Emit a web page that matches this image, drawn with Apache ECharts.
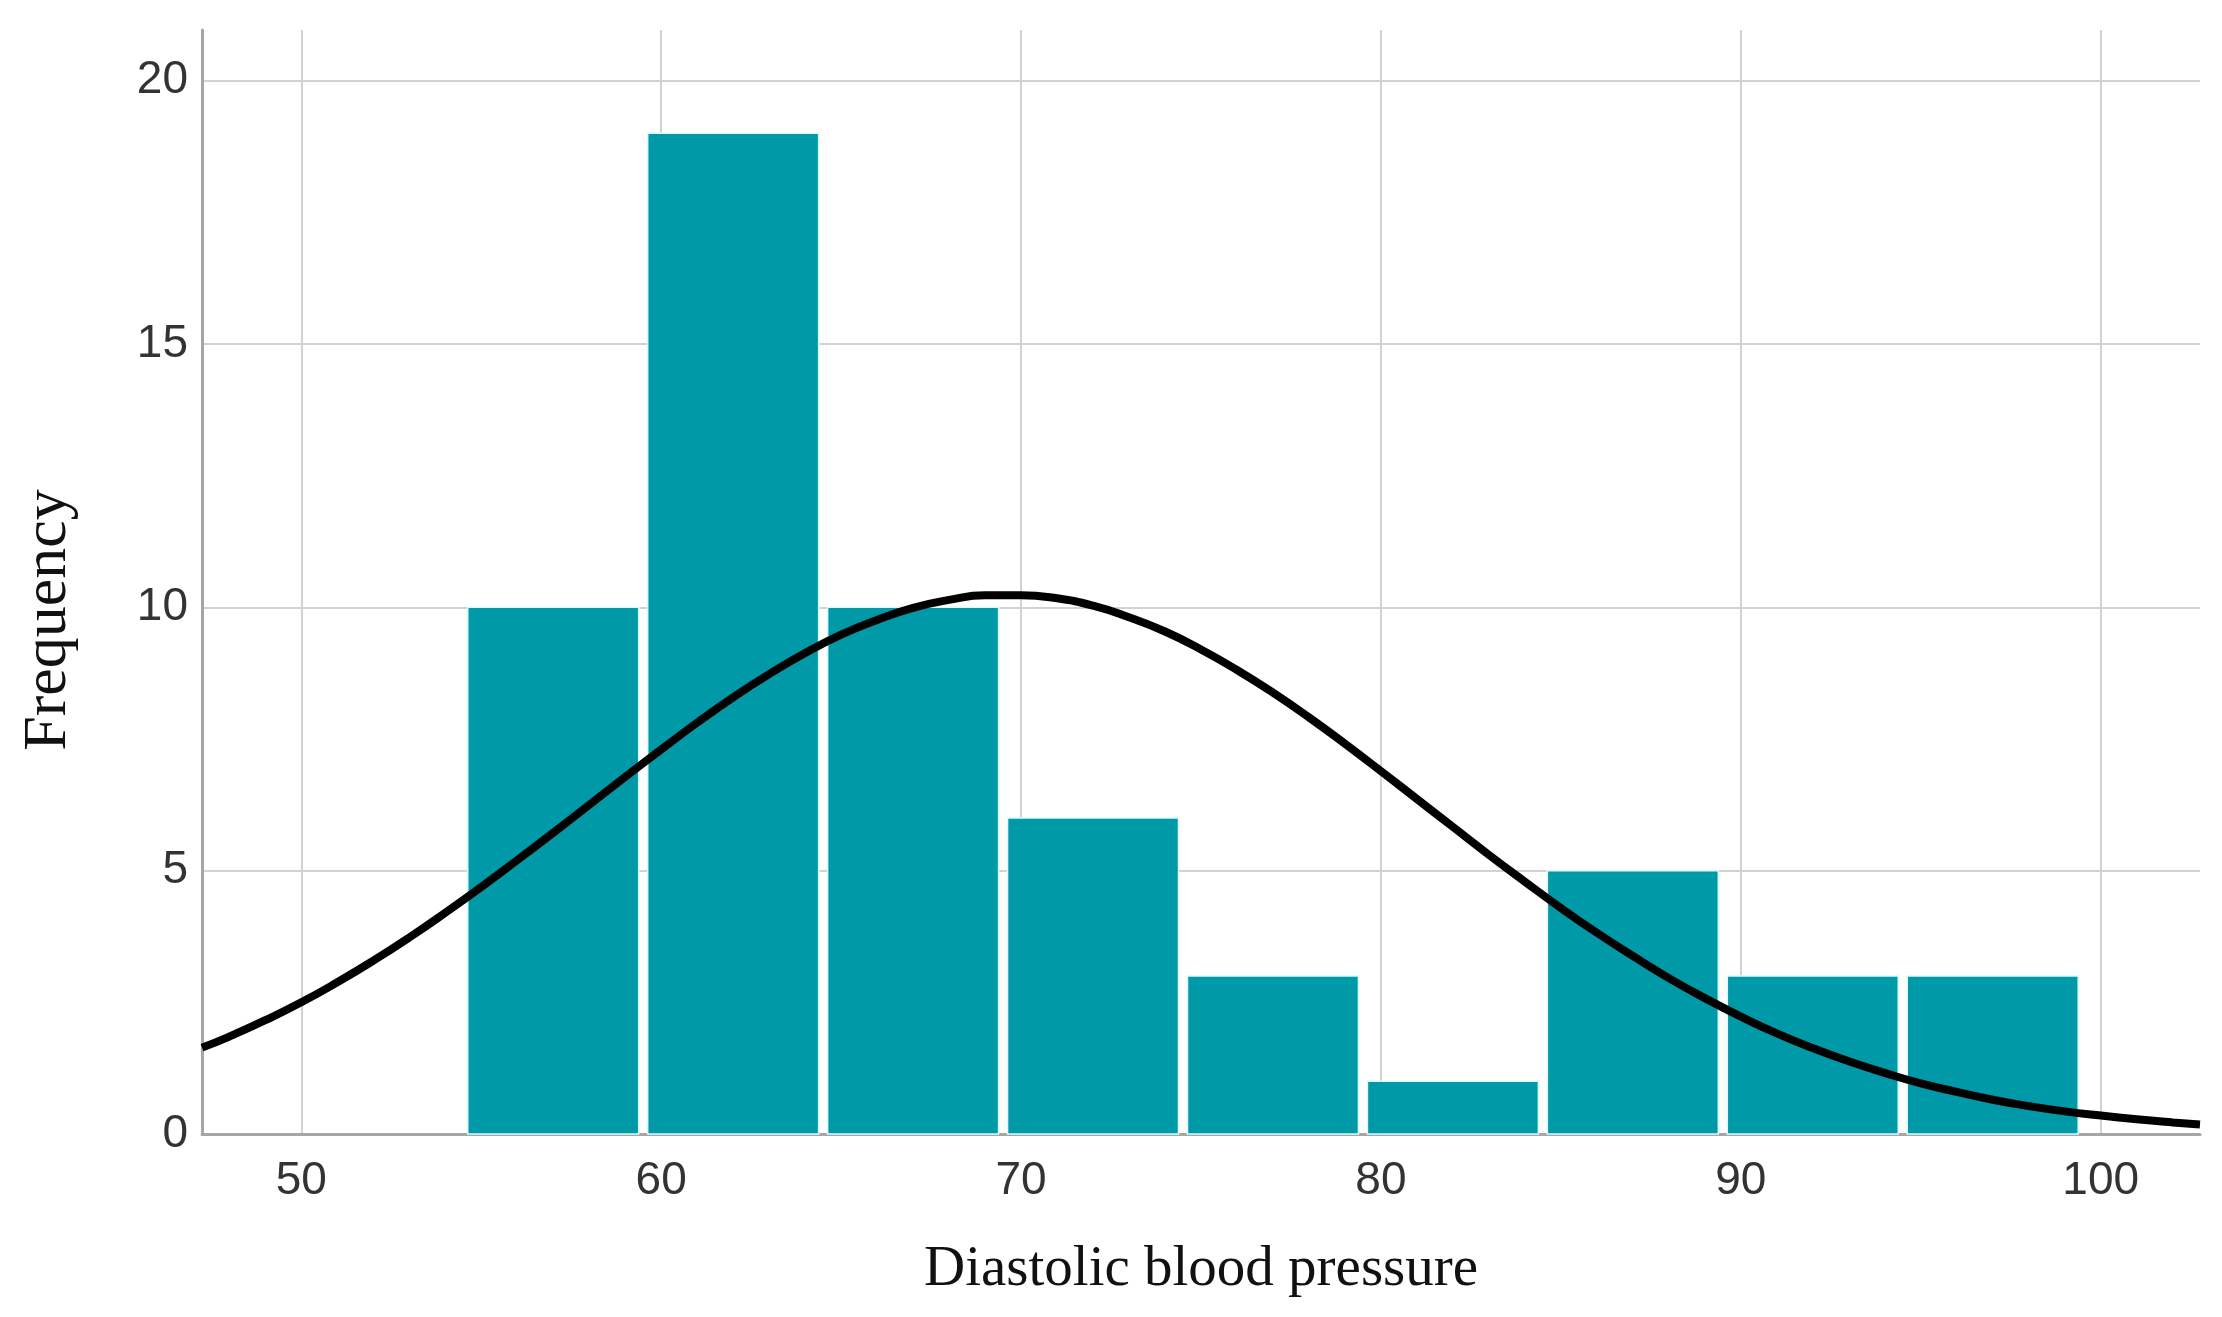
<!DOCTYPE html>
<html>
<head>
<meta charset="utf-8">
<script src="https://cdn.jsdelivr.net/npm/echarts@6/dist/echarts.min.js"></script>
<style>
html,body{margin:0;padding:0;background:#fff;}
#chart{width:2222px;height:1317px;}
</style>
</head>
<body>
<div id="chart"></div>
<script>
// ---- data ----
const binStart = [54.5, 59.5, 64.5, 69.5, 74.5, 79.5, 84.5, 89.5, 94.5];
const binEnd   = [59.5, 64.5, 69.5, 74.5, 79.5, 84.5, 89.5, 94.5, 99.5];
const counts   = [10, 19, 10, 6, 3, 1, 5, 3, 3];
const curveX = [47.24, 48, 49, 50, 51, 52, 53, 54, 55, 56, 57, 58, 59, 60, 61, 62, 63, 64, 65, 66, 67, 68, 69, 70,
                71, 72, 73, 74, 75, 76, 77, 78, 79, 80, 81, 82, 83, 84, 85, 86, 87, 88, 89, 90,
                91, 92, 93, 94, 95, 96, 97, 98, 99, 100, 101, 102, 102.76];
const curveY = [1.64, 1.85, 2.16, 2.50, 2.88, 3.29, 3.73, 4.20, 4.69, 5.20, 5.72, 6.25, 6.78, 7.30, 7.81, 8.29, 8.73, 9.13, 9.48, 9.76, 9.99, 10.14, 10.23, 10.23,
                10.17, 10.03, 9.81, 9.54, 9.20, 8.81, 8.38, 7.91, 7.41, 6.89, 6.36, 5.83, 5.30, 4.79, 4.29, 3.82, 3.38, 2.96, 2.58, 2.23,
                1.91, 1.63, 1.38, 1.16, 0.96, 0.80, 0.65, 0.53, 0.43, 0.35, 0.28, 0.22, 0.18];
const xTicks = [50, 60, 70, 80, 90, 100];
const yTicks = [0, 5, 10, 15, 20];
const xRange = [47.24, 102.76];
const yRange = [0, 20.96];

const chart = echarts.init(document.getElementById('chart'), null, {renderer: 'canvas'});

const barData = binStart.map((s, i) => [s, binEnd[i], counts[i]]);
const lineData = curveX.map((x, i) => [x, curveY[i]]);

const option = {
  backgroundColor: '#ffffff',
  animation: false,
  grid: {left: 202, right: 22, top: 30, bottom: 183, containLabel: false},
  xAxis: {
    type: 'value',
    min: xRange[0], max: xRange[1],
    name: 'Diastolic blood pressure',
    nameLocation: 'middle',
    nameGap: 108,
    nameTextStyle: {fontFamily: 'Liberation Serif', fontSize: 57, color: '#111'},
    axisLine: {show: true, onZero: false, lineStyle: {color: '#a6a6a6', width: 3}},
    axisTick: {show: false, customValues: xTicks},
    axisLabel: {customValues: xTicks, margin: 24, fontFamily: 'Liberation Sans', fontSize: 46, color: '#333'},
    splitLine: {show: true, lineStyle: {color: '#d2d2d2', width: 2}}
  },
  yAxis: {
    type: 'value',
    min: yRange[0], max: yRange[1],
    name: 'Frequency',
    nameLocation: 'middle',
    nameGap: 122,
    nameRotate: 90,
    nameTextStyle: {fontFamily: 'Liberation Serif', fontSize: 62, color: '#111', padding: [0, 76, 0, 0]},
    axisLine: {show: true, lineStyle: {color: '#a6a6a6', width: 3}},
    axisTick: {show: false, customValues: yTicks},
    axisLabel: {customValues: yTicks, margin: 14, fontFamily: 'Liberation Sans', fontSize: 46, color: '#333'},
    splitLine: {show: true, lineStyle: {color: '#d2d2d2', width: 2}}
  },
  series: [
    {
      type: 'custom',
      data: barData,
      encode: {x: [0, 1], y: 2},
      z: 2,
      renderItem: function (params, api) {
        const p0 = api.coord([api.value(0), api.value(2)]);
        const p1 = api.coord([api.value(1), 0]);
        const inset = 4.5;
        return {
          type: 'rect',
          shape: {x: p0[0] + inset, y: p0[1], width: (p1[0] - p0[0]) - 2 * inset, height: p1[1] - p0[1]},
          style: {fill: '#0099a8', stroke: '#d8fbff', lineWidth: 1.5}
        };
      }
    },
    {
      type: 'line',
      data: lineData,
      smooth: true,
      showSymbol: false,
      symbol: 'none',
      z: 5,
      clip: false,
      lineStyle: {color: '#000', width: 8}
    }
  ]
};
chart.setOption(option);
</script>
</body>
</html>
